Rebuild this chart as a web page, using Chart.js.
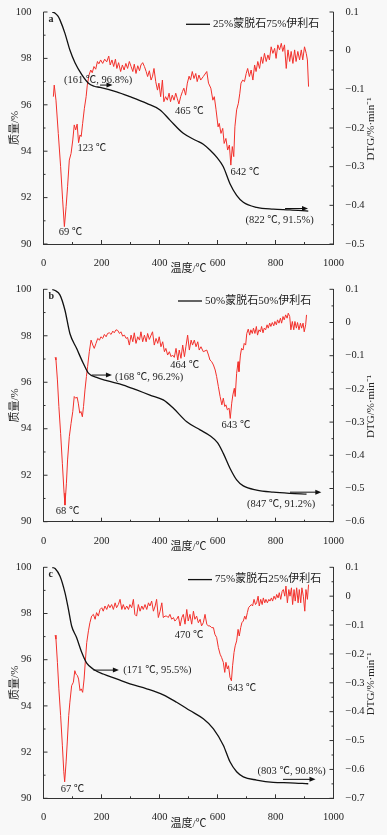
<!DOCTYPE html>
<html>
<head>
<meta charset="utf-8">
<script src="https://cdn.jsdelivr.net/npm/chart.js@4.4.0/dist/chart.umd.min.js"></script>
<style>
  html, body { margin: 0; padding: 0; background: #f8f8f8; }
  canvas { display: block; }
</style>
</head>
<body>
<canvas id="chartA" width="387" height="279"></canvas>
<canvas id="chartB" width="387" height="278"></canvas>
<canvas id="chartC" width="387" height="278"></canvas>
<script>
// ---- data ----
const tempTicks = [0, 200, 400, 600, 800, 1000];
const massTicks = [90, 92, 94, 96, 98, 100];

// panel a: 25% montmorillonite / 75% illite
const legendA = '25%蒙脱石75%伊利石';
const tgTempA = [30, 40, 50, 57, 74, 91, 109, 132, 155, 175, 195, 252, 298, 356, 402, 436, 482, 528, 551, 574, 600, 620, 643, 666, 689, 735, 792, 850, 913];
const tgMassA = [100, 99.95, 99.82, 99.65, 99.08, 98.36, 97.8, 97.3, 96.93, 96.8, 96.75, 96.56, 96.35, 96.06, 95.78, 95.34, 94.77, 94.45, 94.3, 94.05, 93.7, 93.33, 92.6, 92.1, 91.8, 91.58, 91.5, 91.47, 91.42];
const dtgTempA = [34, 37, 43, 51, 59, 66, 72, 78, 83, 89, 95, 101, 106, 111, 116, 121, 126, 130, 135, 141,
  147, 151, 157, 163, 168, 174, 180, 186, 191, 197, 204, 211, 218, 225, 230, 236, 242, 248, 253, 259,
  266, 272, 278, 284, 290, 296, 302, 308, 313, 319, 325, 331, 336, 342, 348, 354, 359, 365, 371, 376,
  381, 387, 393, 398, 404, 410, 415, 421, 427, 433, 438, 444, 450, 456, 461, 467, 473, 479, 484, 490,
  496, 502, 507, 513, 519, 525, 530, 536, 542, 551, 563, 569, 577, 584, 589, 595, 602, 606, 612, 618,
  623, 629, 635, 641, 646, 651, 656, 660, 666, 672, 677, 681, 687, 693, 699, 704, 710, 716, 722, 728,
  733, 739, 745, 751, 756, 762, 768, 774, 779, 785, 791, 797, 802, 808, 814, 820, 825, 831, 837, 843,
  849, 854, 860, 866, 871, 877, 883, 889, 894, 900, 906, 910, 914];
const dtgRateA = [-0.119, -0.089, -0.128, -0.214, -0.300, -0.386, -0.455, -0.403, -0.352, -0.283, -0.266, -0.231, -0.192, -0.205, -0.190, -0.238, -0.218, -0.222, -0.188, -0.149,
  -0.119, -0.089, -0.063, -0.050, -0.057, -0.041, -0.048, -0.028, -0.034, -0.024, -0.033, -0.022, -0.029, -0.014, -0.037, -0.024, -0.041, -0.022, -0.046, -0.031,
  -0.054, -0.037, -0.050, -0.033, -0.046, -0.028, -0.041, -0.054, -0.035, -0.059, -0.039, -0.052, -0.037, -0.031, -0.041, -0.054, -0.067, -0.052, -0.076, -0.066,
  -0.046, -0.080, -0.102, -0.084, -0.119, -0.076, -0.132, -0.119, -0.128, -0.110, -0.132, -0.115, -0.128, -0.110, -0.123, -0.138, -0.119, -0.106, -0.097, -0.115,
  -0.084, -0.066, -0.076, -0.054, -0.072, -0.059, -0.080, -0.063, -0.076, -0.067, -0.054, -0.084, -0.097, -0.128, -0.119, -0.153, -0.197, -0.188, -0.214, -0.201,
  -0.240, -0.227, -0.257, -0.244, -0.296, -0.248, -0.274, -0.197, -0.153, -0.136, -0.110, -0.084, -0.076, -0.080, -0.059, -0.046, -0.067, -0.050, -0.076, -0.037,
  -0.054, -0.028, -0.046, -0.016, -0.033, -0.007, -0.028, -0.011, -0.024, 0.010, -0.007, 0.006, -0.020, 0.015, 0.002, 0.019, -0.002, 0.015, -0.046, 0.002,
  -0.028, -0.002, -0.033, 0.002, -0.028, -0.002, -0.024, 0.002, -0.024, 0.010, -0.007, -0.024, -0.093];

// panel b: 50% / 50%
const legendB = '50%蒙脱石50%伊利石';
const tgTempB = [30, 40, 57, 74, 91, 114, 137, 155, 183, 218, 275, 321, 367, 413, 448, 494, 540, 574, 600, 620, 643, 666, 689, 735, 792, 850, 907];
const tgMassB = [100, 99.95, 99.75, 99.1, 98.1, 97.46, 96.82, 96.39, 96.21, 96.07, 95.88, 95.67, 95.45, 95.24, 94.88, 94.3, 93.95, 93.7, 93.4, 92.94, 92.3, 91.8, 91.54, 91.36, 91.27, 91.22, 91.19];
const dtgTempB = [40, 43, 48, 53, 59, 65, 71, 74, 79, 83, 89, 95, 101, 106, 111, 116, 120, 125, 129, 134,
  138, 143, 148, 152, 158, 164, 170, 175, 181, 187, 193, 198, 204, 210, 216, 221, 227, 233, 239, 244,
  250, 256, 262, 267, 273, 279, 285, 290, 296, 302, 308, 313, 319, 325, 331, 336, 342, 348, 354, 359,
  365, 371, 376, 382, 388, 394, 399, 405, 411, 417, 422, 428, 434, 440, 445, 451, 457, 463, 468, 474,
  480, 486, 491, 497, 503, 509, 514, 520, 526, 532, 537, 543, 551, 563, 569, 574, 580, 586, 592, 597,
  603, 609, 615, 620, 625, 629, 634, 640, 644, 649, 653, 658, 661, 666, 671, 674, 679, 683, 688, 692,
  697, 701, 706, 711, 715, 720, 724, 729, 734, 738, 743, 748, 752, 757, 761, 766, 771, 775, 780, 784,
  789, 794, 798, 803, 807, 812, 817, 821, 826, 830, 835, 840, 844, 849, 853, 858, 863, 867, 872, 876,
  881, 886, 890, 895, 899, 904, 907];
const dtgRateB = [-0.105, -0.113, -0.173, -0.253, -0.334, -0.424, -0.514, -0.550, -0.484, -0.414, -0.344, -0.304, -0.268, -0.223, -0.228, -0.225, -0.243, -0.273, -0.268, -0.284,
  -0.253, -0.203, -0.163, -0.133, -0.088, -0.053, -0.068, -0.078, -0.063, -0.048, -0.053, -0.043, -0.048, -0.036, -0.043, -0.033, -0.031, -0.036, -0.026, -0.031,
  -0.022, -0.024, -0.033, -0.028, -0.041, -0.038, -0.048, -0.045, -0.068, -0.038, -0.058, -0.031, -0.063, -0.043, -0.053, -0.028, -0.058, -0.038, -0.058, -0.033,
  -0.051, -0.038, -0.028, -0.068, -0.048, -0.063, -0.043, -0.073, -0.058, -0.088, -0.078, -0.098, -0.088, -0.103, -0.098, -0.105, -0.078, -0.113, -0.083, -0.108,
  -0.068, -0.103, -0.073, -0.038, -0.083, -0.053, -0.068, -0.053, -0.073, -0.058, -0.083, -0.073, -0.088, -0.083, -0.098, -0.113, -0.118, -0.128, -0.143, -0.163,
  -0.193, -0.223, -0.248, -0.228, -0.253, -0.248, -0.263, -0.258, -0.289, -0.243, -0.218, -0.198, -0.223, -0.153, -0.118, -0.148, -0.098, -0.078, -0.083, -0.063,
  -0.068, -0.033, -0.020, -0.038, -0.022, -0.033, -0.017, -0.033, -0.012, -0.038, -0.022, -0.028, -0.012, -0.031, -0.017, -0.022, -0.007, -0.017, -0.002, -0.012,
  0.000, -0.010, 0.003, -0.007, 0.008, -0.002, 0.013, -0.002, 0.018, 0.008, 0.023, 0.013, 0.028, 0.018, -0.022, 0.003, -0.022, 0.003, -0.017, 0.000,
  -0.022, -0.002, -0.017, -0.002, -0.028, -0.007, 0.023];

// panel c: 75% / 25%
const legendC = '75%蒙脱石25%伊利石';
const tgTempC = [30, 40, 57, 74, 86, 97, 114, 132, 149, 172, 206, 252, 298, 356, 413, 459, 505, 551, 586, 620, 643, 666, 689, 735, 792, 850, 913];
const tgMassC = [100, 99.95, 99.61, 98.9, 98.18, 97.46, 96.96, 96.31, 95.85, 95.59, 95.38, 95.17, 94.95, 94.74, 94.48, 94.16, 93.8, 93.44, 93.01, 92.3, 91.58, 91.15, 90.93, 90.79, 90.69, 90.67, 90.63];
const dtgTempC = [40, 43, 48, 53, 59, 65, 70, 73, 78, 82, 87, 91, 97, 103, 108, 112, 117, 121, 126, 130,
  135, 140, 144, 149, 155, 160, 166, 172, 178, 183, 189, 195, 201, 206, 212, 218, 224, 229, 235, 241,
  247, 252, 258, 264, 270, 275, 281, 287, 293, 298, 304, 310, 315, 321, 327, 333, 339, 344, 350, 356,
  362, 367, 373, 379, 385, 390, 396, 402, 408, 413, 419, 425, 430, 436, 442, 448, 453, 459, 465, 471,
  477, 482, 488, 494, 499, 505, 511, 517, 522, 528, 534, 540, 545, 551, 557, 563, 568, 574, 580, 586,
  591, 597, 603, 609, 614, 620, 625, 629, 634, 638, 643, 648, 652, 657, 661, 666, 671, 675, 680, 684,
  689, 694, 698, 703, 707, 712, 717, 721, 726, 731, 735, 740, 744, 749, 754, 758, 763, 767, 772, 777,
  781, 786, 790, 795, 800, 804, 809, 813, 818, 823, 827, 832, 836, 841, 846, 850, 855, 859, 864, 868,
  873, 878, 882, 887, 891, 896, 901, 905, 910, 914];
const dtgRateC = [-0.135, -0.149, -0.229, -0.321, -0.413, -0.516, -0.608, -0.643, -0.574, -0.505, -0.413, -0.367, -0.310, -0.298, -0.258, -0.270, -0.275, -0.287, -0.327, -0.321,
  -0.333, -0.287, -0.229, -0.161, -0.120, -0.092, -0.069, -0.063, -0.080, -0.057, -0.069, -0.046, -0.040, -0.052, -0.034, -0.046, -0.029, -0.040, -0.029, -0.046,
  -0.023, -0.040, -0.029, -0.011, -0.046, -0.029, -0.046, -0.034, -0.046, -0.029, -0.040, -0.011, -0.063, -0.069, -0.029, -0.052, -0.034, -0.046, -0.029, -0.046,
  -0.023, -0.034, -0.017, -0.052, -0.034, -0.011, -0.074, -0.052, -0.023, -0.074, -0.069, -0.069, -0.074, -0.063, -0.080, -0.074, -0.086, -0.080, -0.069, -0.103,
  -0.074, -0.063, -0.097, -0.046, -0.086, -0.063, -0.097, -0.052, -0.080, -0.069, -0.092, -0.080, -0.103, -0.092, -0.063, -0.097, -0.103, -0.103, -0.109, -0.109,
  -0.132, -0.143, -0.178, -0.201, -0.212, -0.229, -0.264, -0.229, -0.252, -0.241, -0.281, -0.293, -0.241, -0.195, -0.172, -0.155, -0.115, -0.138, -0.109, -0.092,
  -0.086, -0.069, -0.080, -0.057, -0.040, -0.034, -0.029, -0.034, -0.011, -0.029, -0.023, 0.000, -0.034, -0.011, -0.029, -0.006, -0.023, -0.011, -0.023, -0.011,
  -0.017, -0.006, -0.017, 0.000, -0.011, 0.006, -0.006, 0.012, -0.011, 0.017, 0.023, 0.000, 0.035, -0.023, 0.023, 0.000, 0.029, -0.029, 0.023, -0.017,
  0.029, -0.023, 0.023, -0.023, 0.029, 0.000, -0.052, 0.023, -0.011, 0.040];

// ---- drawing ----
const serif = "'Liberation Serif', 'Noto Sans CJK SC', serif";
const ink = '#222';

function fmtDtg(v) {
  if (Math.abs(v) < 1e-9) return '0';
  return (v < 0 ? '\u2212' : '') + Math.abs(v).toFixed(1);
}

function arrow(ctx, x1, y1, x2, y2) {
  ctx.beginPath();
  ctx.moveTo(x1, y1);
  ctx.lineTo(x2 - 5, y2);
  ctx.stroke();
  ctx.beginPath();
  ctx.moveTo(x2, y2);
  ctx.lineTo(x2 - 6, y2 - 2.5);
  ctx.lineTo(x2 - 6, y2 + 2.5);
  ctx.closePath();
  ctx.fill();
}

const decor = {
  id: 'decor',
  afterDraw(chart, args, o) {
    const { ctx, chartArea: ca } = chart;
    const { x, y, y2 } = chart.scales;
    ctx.save();
    ctx.strokeStyle = '#333';
    ctx.fillStyle = ink;
    ctx.lineWidth = 1;
    const seg = (ax, ay, bx, by) => { ctx.beginPath(); ctx.moveTo(ax, ay); ctx.lineTo(bx, by); ctx.stroke(); };

    // inward tick marks (major + minor)
    for (let t = 0; t <= 1000; t += 100) {
      const px = x.getPixelForValue(t);
      seg(px, ca.bottom, px, ca.bottom - (t % 200 === 0 ? 4 : 2));
    }
    for (let m = 90; m <= 100; m++) {
      const py = y.getPixelForValue(m);
      seg(ca.left, py, ca.left + (m % 2 === 0 ? 4 : 2), py);
    }
    const steps = Math.round((y2.max - y2.min) / 0.05);
    for (let k = 0; k <= steps; k++) {
      const py = y2.getPixelForValue(y2.min + k * 0.05);
      seg(ca.right, py, ca.right - (k % 2 === 0 ? 4 : 2), py);
    }

    // axis titles
    ctx.font = '11px ' + serif;
    ctx.textAlign = 'center';
    ctx.textBaseline = 'middle';
    ctx.fillText('温度/℃', (ca.left + ca.right) / 2, ca.bottom + 25.5);
    const midY = (ca.top + ca.bottom) / 2;
    ctx.save();
    ctx.translate(15, midY);
    ctx.rotate(-Math.PI / 2);
    ctx.fillText('质量/%', 0, 0);
    ctx.restore();
    ctx.save();
    ctx.translate(371, midY + 1);
    ctx.rotate(-Math.PI / 2);
    ctx.fillText('DTG/%\u00b7min\u207b\u00b9', 0, 0);
    ctx.restore();

    // panel letter
    ctx.font = 'bold 10px ' + serif;
    ctx.textAlign = 'left';
    ctx.fillText(o.letter, ca.left + 5, ca.top + 7);

    // legend
    ctx.strokeStyle = '#111';
    ctx.lineWidth = 1.3;
    seg(o.legendX, ca.top + o.legendDy, o.legendX + 24, ca.top + o.legendDy);
    ctx.font = '11px ' + serif;
    ctx.fillText(o.legendText, o.legendX + 27, ca.top + o.legendDy);

    // annotations
    ctx.font = '10.5px ' + serif;
    ctx.textAlign = 'center';
    o.notes.forEach(n => {
      ctx.fillText(n.text, x.getPixelForValue(n.t), y.getPixelForValue(n.m));
    });
    ctx.lineWidth = 1;
    ctx.fillStyle = '#111';
    o.arrows.forEach(a => {
      const py = y.getPixelForValue(a.m);
      arrow(ctx, x.getPixelForValue(a.t0), py, x.getPixelForValue(a.t1), py);
    });
    ctx.restore();
  }
};

function makePanel(id, cfg) {
  const H = document.getElementById(id).height;
  const tg = cfg.tgT.map((t, i) => ({ x: t, y: cfg.tgM[i] }));
  const dtg = cfg.dT.map((t, i) => ({ x: t, y: cfg.dR[i] }));
  const tickFont = { family: serif, size: 10.5 };
  return new Chart(document.getElementById(id), {
    type: 'line',
    data: {
      datasets: [
        { label: cfg.legend, data: tg, yAxisID: 'y', borderColor: '#111', borderWidth: 1.3,
          pointRadius: 0, cubicInterpolationMode: 'monotone' },
        { label: 'DTG', data: dtg, yAxisID: 'y2', borderColor: '#f2302b', borderWidth: 1,
          pointRadius: 0, tension: 0 }
      ]
    },
    options: {
      responsive: false,
      animation: false,
      layout: { padding: { top: cfg.top, left: 0, right: 0, bottom: 0 } },
      plugins: {
        legend: { display: false },
        tooltip: { enabled: false },
        decor: cfg.decor
      },
      scales: {
        x: {
          type: 'linear', min: 0, max: 1000,
          afterBuildTicks: s => { s.ticks = tempTicks.map(v => ({ value: v })); },
          afterFit: s => { s.height = H - cfg.bottom; },
          grid: { display: false },
          border: { display: true, color: '#333', width: 1 },
          ticks: { font: tickFont, color: ink, padding: 5, maxRotation: 0, autoSkip: false,
                   callback: v => String(v) }
        },
        y: {
          position: 'left', min: 90, max: 100,
          afterBuildTicks: s => { s.ticks = massTicks.map(v => ({ value: v })); },
          afterFit: s => { s.width = 43.5; },
          grid: { display: false },
          border: { display: true, color: '#333', width: 1 },
          ticks: { font: tickFont, color: ink, padding: 4, callback: v => String(v) }
        },
        y2: {
          position: 'right', min: cfg.dMin, max: 0.1,
          afterBuildTicks: s => {
            const n = Math.round((0.1 - cfg.dMin) / 0.1);
            const arr = [];
            for (let k = 0; k <= n; k++) arr.push({ value: cfg.dMin + k * 0.1 });
            s.ticks = arr;
          },
          afterFit: s => { s.width = 53.5; },
          grid: { display: false },
          border: { display: true, color: '#333', width: 1 },
          ticks: { font: tickFont, color: ink, padding: 4, callback: v => fmtDtg(v) }
        }
      }
    },
    plugins: [decor]
  });
}

makePanel('chartA', {
  tgT: tgTempA, tgM: tgMassA, dT: dtgTempA, dR: dtgRateA, legend: legendA,
  dMin: -0.5, top: 12, bottom: 244,
  decor: {
    letter: 'a', legendText: legendA, legendX: 186, legendDy: 12.3,
    notes: [
      { t: 188, m: 97.07, text: '(161 ℃, 96.8%)' },
      { t: 167, m: 94.14, text: '123 ℃' },
      { t: 93, m: 90.52, text: '69 ℃' },
      { t: 503, m: 95.73, text: '465 ℃' },
      { t: 695, m: 93.1, text: '642 ℃' },
      { t: 814, m: 91.03, text: '(822 ℃, 91.5%)' }
    ],
    arrows: [ { t0: 195, t1: 238, m: 96.85 }, { t0: 833, t1: 912, m: 91.53 } ]
  }
});

makePanel('chartB', {
  tgT: tgTempB, tgM: tgMassB, dT: dtgTempB, dR: dtgRateB, legend: legendB,
  dMin: -0.6, top: 10.3, bottom: 242.7,
  decor: {
    letter: 'b', legendText: legendB, legendX: 178, legendDy: 11.7,
    notes: [
      { t: 83, m: 90.46, text: '68 ℃' },
      { t: 364, m: 96.21, text: '(168 ℃, 96.2%)' },
      { t: 487, m: 96.74, text: '464 ℃' },
      { t: 664, m: 94.16, text: '643 ℃' },
      { t: 819, m: 90.76, text: '(847 ℃, 91.2%)' }
    ],
    arrows: [ { t0: 166, t1: 236, m: 96.31 }, { t0: 850, t1: 958, m: 91.27 } ]
  }
});

makePanel('chartC', {
  tgT: tgTempC, tgM: tgMassC, dT: dtgTempC, dR: dtgRateC, legend: legendC,
  dMin: -0.7, top: 9, bottom: 241.3,
  decor: {
    letter: 'c', legendText: legendC, legendX: 188, legendDy: 12.3,
    notes: [
      { t: 100, m: 90.4, text: '67 ℃' },
      { t: 393, m: 95.55, text: '(171 ℃, 95.5%)' },
      { t: 502, m: 97.07, text: '470 ℃' },
      { t: 684, m: 94.75, text: '643 ℃' },
      { t: 856, m: 91.19, text: '(803 ℃, 90.8%)' }
    ],
    arrows: [ { t0: 172, t1: 260, m: 95.55 }, { t0: 826, t1: 938, m: 90.82 } ]
  }
});
</script>
</body>
</html>
